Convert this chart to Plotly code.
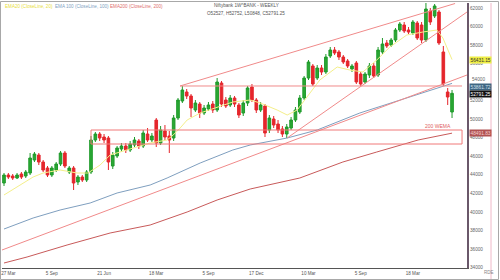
import plotly.graph_objects as go

# ---------------- data ----------------
idx = list(range(104))
opens = [43113, 43976, 43869, 43653, 44084, 43869, 44192, 45595, 46134, 45379,
         44732, 43976, 44516, 45163, 46350, 44300, 44732, 43221, 43761, 43437,
         44300, 47753, 48400, 48077, 47969, 44948, 46027, 46782, 47106, 46674,
         47213, 47645, 47106, 48400, 47753, 49911, 47429, 48724, 48185, 47969,
         50127, 51961, 52932, 52501, 50990, 51637, 50666, 51098, 51637, 50990,
         53903, 52069, 51529, 52285, 51529, 50666, 51745, 53472, 52069, 50990,
         51422, 48832, 50019, 49479, 48940, 48400, 49048, 49911, 50774, 52285,
         54443, 55738, 54443, 55522, 55090, 56817, 57464, 57248, 56709, 56277,
         55414, 56061, 54874, 54011, 54766, 55738, 54766, 57248, 58219, 58003,
         58543, 59622, 60162, 59622, 59298, 60377, 60162, 58543, 61672, 61133,
         61564, 57248, 52932, 50774]
highs = [44192, 44192, 44084, 44192, 44300, 44516, 46350, 46458, 46350, 45595,
         44948, 44948, 45379, 46566, 46566, 44948, 44948, 43976, 43976, 44516,
         48185, 48616, 48616, 48400, 48185, 46458, 47106, 47429, 47429, 47645,
         48077, 47861, 48832, 49048, 48508, 50127, 49264, 49371, 48724, 50450,
         52285, 53580, 53256, 52716, 52069, 51853, 51529, 51853, 51961, 54443,
         54119, 52393, 52608, 52501, 51745, 52069, 53580, 53795, 52285, 51853,
         51637, 50450, 50343, 49911, 49264, 49479, 50235, 51314, 52608, 54659,
         56385, 55953, 55845, 55845, 57032, 57788, 57788, 57464, 56924, 56493,
         55953, 56277, 55090, 55090, 56061, 56061, 57788, 58759, 58543, 58759,
         59838, 60485, 60485, 59946, 60701, 60593, 60485, 62535, 61996, 62427,
         61780, 57896, 53364, 53148]
lows = [42790, 43545, 43437, 43545, 43545, 43653, 43976, 45379, 45055, 44300,
        43761, 43761, 44300, 44948, 44732, 44084, 42358, 42897, 43221, 43221,
        44084, 47537, 47645, 47429, 44516, 44624, 45811, 46458, 46350, 46458,
        46998, 46782, 46890, 47537, 47537, 46998, 47213, 47753, 46350, 47645,
        49911, 51745, 52177, 50235, 50774, 50127, 50450, 50882, 50666, 50774,
        51314, 51206, 51314, 51314, 50127, 50343, 51422, 51853, 50666, 50774,
        48077, 48508, 49048, 48508, 48077, 47969, 48832, 49695, 50558, 52069,
        54227, 53580, 54227, 54766, 54874, 56601, 56924, 56385, 55953, 55522,
        55090, 53795, 53580, 53795, 54443, 54443, 54551, 57032, 57680, 57788,
        58327, 59406, 59298, 59190, 59083, 58543, 58219, 58327, 60162, 60917,
        58003, 53580, 51529, 50127]
closes = [43976, 43761, 43653, 43976, 43761, 44300, 45811, 46242, 45379, 44516,
          43976, 44732, 45163, 46350, 44948, 44732, 43113, 43761, 43437, 44300,
          47753, 48400, 47969, 47753, 45379, 46134, 46890, 47106, 46674, 47321,
          47753, 47106, 48508, 47753, 48185, 47429, 48832, 48077, 47753, 50127,
          52069, 53148, 52501, 51206, 51745, 50666, 51206, 51529, 50990, 54011,
          51637, 51422, 52285, 51637, 50450, 51745, 53364, 52069, 50990, 51529,
          48508, 50127, 49371, 48832, 48400, 49156, 49911, 50990, 52285, 54443,
          56169, 53795, 55522, 55090, 56709, 57464, 57140, 56709, 56169, 55738,
          55738, 54011, 53795, 54874, 55738, 54659, 57464, 58111, 57896, 58543,
          59622, 60269, 59514, 59406, 60485, 58759, 58543, 61888, 60485, 62212,
          58219, 53795, 52393, 52791.25]

ema20_x = [0, 6.7, 9.0, 12.9, 16.8, 19.3, 22.1, 24.4, 29.7, 33.6, 37.5, 38.9, 40.5,
           42.1, 45.1, 49.0, 52.6, 56.6, 58.9, 62.8, 65.1, 67.4, 69.7, 72.6, 76.6,
           79.5, 82.5, 85.7, 88.7, 92.6, 96.3, 99.5, 100.9, 103]
ema20_y = [41820, 43761, 44192, 44516, 44192, 44192, 45055, 46134, 46890, 47429,
           47753, 48293, 49048, 49911, 50666, 51314, 51853, 52069, 51745, 50990,
           50450, 50990, 52393, 54227, 55630, 55306, 55090, 56385, 57788, 59083,
           59406, 59622, 58759, 56431.15]
ema100_x = [0, 6.7, 12.9, 19.8, 26.0, 33.6, 37.5, 45.1, 52.6, 56.6, 65.1, 72.0,
            81.8, 91.0, 103]
ema100_y = [38150, 39337, 40200, 40955, 42035, 42897, 43653, 45271, 46674, 47213,
            47969, 48832, 50666, 52069, 53861.72]
ema200_x = [0, 5.3, 14.5, 24.4, 33.6, 42.1, 49.0, 56.6, 68.0, 77.9, 85.7, 95.2, 103]
ema200_y = [34481, 35129, 36423, 37718, 38582, 39984, 41279, 42466, 43653, 45379,
            46458, 47753, 48491.83]

# drawn trend lines / levels
long_trend_x = [-0.46, 106.44]
long_trend_y = [35884, 54766]
channel_x = [40.46, 103.7]
channel_y = [53580, 62481]
support_x = [65.1, 106.44]
support_y = [47969, 61564]
level_x = [40.46, 105.3]
level_y = [53580, 53580]
zone_x = [20.0, 105.3]
zone_lo, zone_hi = 47321, 48832
wema_label_x, wema_label_y = 96.3, 49264

tick_idx = [1, 11, 23, 35, 47, 58, 70, 82, 94]
tick_text = ["27 Mar", "5 Sep", "21 Jun", "18 Mar", "5 Sep", "17 Dec", "10 Mar", "5 Sep", "18 Mar"]
y_ticks = list(range(34000, 62001, 2000))
y_range = [33942, 62535]
x_range = [-0.46, 106.44]

title1 = "Niftybank 1W^BANK - WEEKLY"
title2 = "O52527, H52752, L50848, C52791.25"

# ---------------- figure ----------------
W, H = 500, 280
ML, MR, MT, MB = 2, 33, 3, 12
PW, PH = W - ML - MR, H - MT - MB


def pxx(x):
    return (x - ML) / PW


def pxy(y):
    return 1 - (y - MT) / PH


FONT = "Liberation Sans, Arial, sans-serif"
fig = go.Figure()

fig.add_trace(go.Scatter(x=ema200_x, y=ema200_y, mode="lines",
                         line=dict(color="#c85a5a", width=1), hoverinfo="skip"))
fig.add_trace(go.Scatter(x=ema100_x, y=ema100_y, mode="lines",
                         line=dict(color="#7f9fbf", width=1), hoverinfo="skip"))
fig.add_trace(go.Scatter(x=ema20_x, y=ema20_y, mode="lines",
                         line=dict(color="#f4ef8a", width=1), hoverinfo="skip"))

pink = "#f08a8a"
for xs, ys in [(long_trend_x, long_trend_y), (channel_x, channel_y),
               (support_x, support_y), (level_x, level_y)]:
    fig.add_trace(go.Scatter(x=xs, y=ys, mode="lines",
                             line=dict(color=pink, width=1), hoverinfo="skip"))
fig.add_trace(go.Scatter(x=[zone_x[0], zone_x[1], zone_x[1], zone_x[0], zone_x[0]],
                         y=[zone_hi, zone_hi, zone_lo, zone_lo, zone_hi], mode="lines",
                         line=dict(color="#f07878", width=1), hoverinfo="skip"))

fig.add_trace(go.Candlestick(
    x=idx, open=opens, high=highs, low=lows, close=closes,
    increasing=dict(line=dict(color="#1f9a2a", width=1), fillcolor="#2aa834"),
    decreasing=dict(line=dict(color="#e5262c", width=1), fillcolor="#e5262c"),
    whiskerwidth=0, hoverinfo="skip"))

ann = []
# legend texts
for x0, txt, col in [(3, "EMA20 (CloseLine, 20)", "#e8e040"),
                     (53, "EMA 100 (CloseLine, 100)", "#7f9fbf"),
                     (108, "EMA200 (CloseLine, 200)", "#e07070")]:
    ann.append(dict(xref="paper", yref="paper", x=pxx(x0), y=pxy(7), text=txt,
                    showarrow=False, xanchor="left", yanchor="middle",
                    font=dict(family=FONT, size=4.6, color=col)))
ann.append(dict(xref="paper", yref="paper", x=pxx(246), y=pxy(6), text=title1,
                showarrow=False, xanchor="center", yanchor="middle",
                font=dict(family=FONT, size=4.6, color="#555")))
ann.append(dict(xref="paper", yref="paper", x=pxx(246), y=pxy(14), text=title2,
                showarrow=False, xanchor="center", yanchor="middle",
                font=dict(family=FONT, size=4.6, color="#555")))
ann.append(dict(xref="x", yref="y", x=wema_label_x, y=wema_label_y, text="200 WEMA",
                showarrow=False, xanchor="left", yanchor="middle",
                font=dict(family=FONT, size=5, color="#e06060")))
# the 54000 tick label sits just above the EMA100 box
ann.append(dict(xref="paper", yref="paper", x=pxx(469.5), y=pxy(79.5), text="54000",
                showarrow=False, xanchor="left", yanchor="middle",
                font=dict(family=FONT, size=4.7, color="#666")))
# price boxes on the axis
for val, bg, fg, ys in [(ema20_y[-1], "#eeee44", "#333", 0),
                        (ema100_y[-1], "#3f6682", "#cfe0ee", -3.2),
                        (closes[-1], "#111111", "#ffffff", -0.5),
                        (ema200_y[-1], "#b05252", "#f5d0d0", 0)]:
    ann.append(dict(xref="paper", yref="y", x=pxx(469), y=val, yshift=ys,
                    text=f"{val:.2f}", showarrow=False, xanchor="left",
                    yanchor="middle", bgcolor=bg, borderpad=0.5,
                    font=dict(family=FONT, size=4.8, color=fg)))
ann.append(dict(xref="paper", yref="paper", x=pxx(482), y=pxy(272.5), text="RDE",
                showarrow=False, xanchor="left", yanchor="middle",
                font=dict(family=FONT, size=4.5, color="#888")))

shapes = [
    dict(type="rect", xref="paper", yref="paper", x0=pxx(0.5), x1=pxx(498.5),
         y0=pxy(279.5), y1=pxy(1.5), line=dict(color="#a8a8a8", width=1)),
    dict(type="line", xref="paper", yref="paper", x0=pxx(491), x1=pxx(491),
         y0=pxy(3), y1=pxy(279), line=dict(color="#f0b8c8", width=1)),
]

y_ticktext = ["" if v == 54000 else str(v) for v in y_ticks]

fig.update_layout(
    width=W, height=H, margin=dict(l=ML, r=MR, t=MT, b=MB),
    paper_bgcolor="white", plot_bgcolor="white", showlegend=False,
    annotations=ann, shapes=shapes, boxgap=0.25, boxgroupgap=0.2,
    xaxis=dict(range=x_range, showgrid=False, zeroline=False, showline=True,
               linecolor="#555", linewidth=1, rangeslider=dict(visible=False),
               tickmode="array", tickvals=tick_idx, ticktext=tick_text, ticks="",
               tickfont=dict(family=FONT, size=4.6, color="#555")),
    yaxis=dict(range=y_range, side="right", showgrid=False, zeroline=False,
               showline=True, linecolor="#6a586a", linewidth=2,
               tickmode="array", tickvals=y_ticks, ticktext=y_ticktext,
               ticks="", tickfont=dict(family=FONT, size=4.7, color="#666")),
)

fig.write_html("out.html", config=dict(displayModeBar=False, staticPlot=True))
